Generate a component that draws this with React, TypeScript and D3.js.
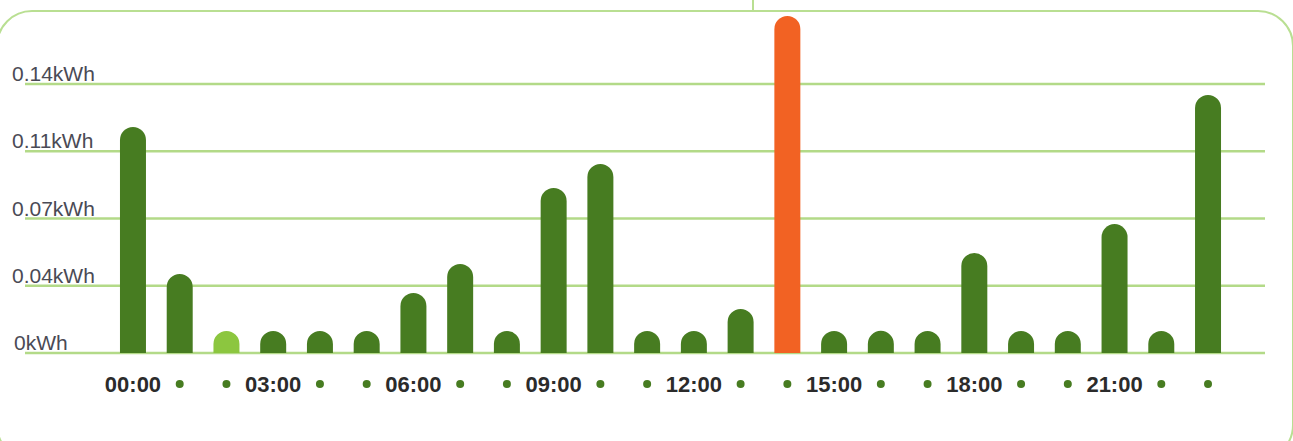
import React from 'react';
import * as d3 from 'd3';

const hours = [
  '00:00', '01:00', '02:00', '03:00', '04:00', '05:00', '06:00', '07:00',
  '08:00', '09:00', '10:00', '11:00', '12:00', '13:00', '14:00', '15:00',
  '16:00', '17:00', '18:00', '19:00', '20:00', '21:00', '22:00', '23:00',
];
const usage = [
  0.1176, 0.0411, 0.0115, 0.0115, 0.0115, 0.0115, 0.0312, 0.0463,
  0.0115, 0.0859, 0.0984, 0.0115, 0.0115, 0.0229, 0.1754, 0.0115,
  0.0115, 0.0115, 0.052, 0.0115, 0.0115, 0.0671, 0.0115, 0.1343,
];
const yTicks = [0, 0.035, 0.07, 0.105, 0.14];
const yTickLabels = ['0kWh', '0.04kWh', '0.07kWh', '0.11kWh', '0.14kWh'];
const currentHour = 2;

const W = 1293;
const H = 441;

export default function App() {
  const x = d3.scaleBand<number>()
    .domain(d3.range(hours.length))
    .range([109.6, 1231.4])
    .paddingInner(0.444)
    .paddingOuter(0.222);
  const y = d3.scaleLinear().domain([0, 0.14]).range([353, 84]);
  const peak = d3.maxIndex(usage);
  const bw = x.bandwidth();
  const r = bw / 2;

  // bar with rounded top
  const barPath = (i: number) => {
    const x0 = x(i)!;
    const top = y(usage[i]);
    const base = y(0);
    const p = d3.path();
    p.moveTo(x0, base);
    p.lineTo(x0, top + r);
    p.arc(x0 + r, top + r, r, Math.PI, 0);
    p.lineTo(x0 + bw, base);
    p.closePath();
    return p.toString();
  };

  const colour = (i: number) =>
    i === peak ? '#f26223' : i === currentHour ? '#8cc63f' : '#477c21';

  return (
    <svg width={W} height={H} style={{ position: 'absolute', left: 0, top: 0 }}>
      <rect x={-3} y={11} width={1296} height={449} rx={35}
        fill="white" stroke="#b9df92" strokeWidth={2} />
      <line x1={753} x2={753} y1={0} y2={11} stroke="#b9df92" strokeWidth={2} />

      {yTicks.map((t, i) => (
        <g key={t}>
          <line x1={25} x2={1265} y1={y(t)} y2={y(t)} stroke="#b3da88" strokeWidth={2.5} />
          <text x={i === 0 ? 14 : 12} y={y(t) - 3} fontFamily="'Liberation Sans', Arial, sans-serif"
            fontSize={21} fill="#4a4a55">{yTickLabels[i]}</text>
        </g>
      ))}

      {usage.map((v, i) => (
        <path key={hours[i]} d={barPath(i)} fill={colour(i)} />
      ))}

      {hours.map((h, i) => {
        const cx = x(i)! + bw / 2;
        return i % 3 === 0 ? (
          <text key={h} x={cx} y={392} textAnchor="middle"
            fontFamily="'Liberation Sans', Arial, sans-serif" fontWeight="bold"
            fontSize={22} fill="#2b2b2b">{h}</text>
        ) : (
          <circle key={h} cx={cx} cy={384} r={4} fill="#477c21" />
        );
      })}
    </svg>
  );
}
